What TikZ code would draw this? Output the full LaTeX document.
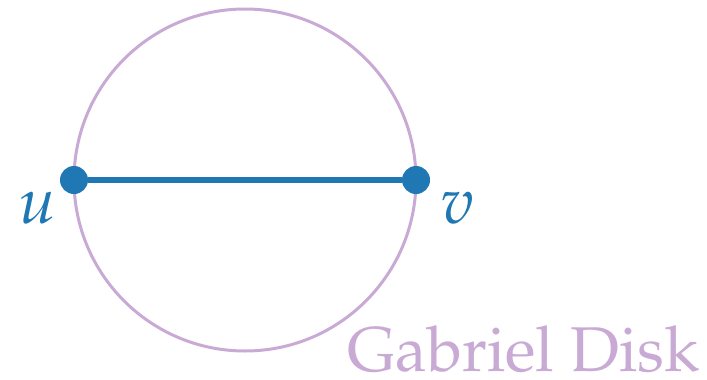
\documentclass[tikz,border=0pt]{standalone}
\usepackage[T1]{fontenc}
\usepackage{mathpazo}
\usepackage{xcolor}
\definecolor{edgeblue}{HTML}{1F77B4}
\definecolor{disklilac}{HTML}{C8AAD5}
\usepackage{tikz}
\usetikzlibrary{positioning}
\tikzset{
  vtx/.style ={circle, fill=edgeblue, inner sep=0pt, minimum size=0.56cm},
  vlbl/.style={text=edgeblue, font=\fontsize{37}{40}\selectfont, inner sep=0pt},
  gedge/.style={line width=0.12cm, color=edgeblue},
  gdisk/.style={line width=0.06cm, color=disklilac},
  dlbl/.style={text=disklilac, font=\fontsize{36}{40}\selectfont, inner sep=0pt, anchor=base},
}
\begin{document}
\begin{tikzpicture}
  \useasboundingbox (0,0) rectangle (14.14,7.58);
  \coordinate (c) at (4.9,3.98);
  \draw[gdisk] (c) circle (3.42cm);
  \node[vtx] (u) at (1.48,3.98) {};
  \node[vtx] (v) at (8.32,3.98) {};
  \draw[gedge] (u)--(v);
  \node[vlbl] (lu) at (0.76,3.42) {$u$};
  \node[vlbl] (lv) at (9.16,3.42) {$v$};
  \node[dlbl] (gd) at (10.47,0.16) {Gabriel Disk};
\end{tikzpicture}
\end{document}
